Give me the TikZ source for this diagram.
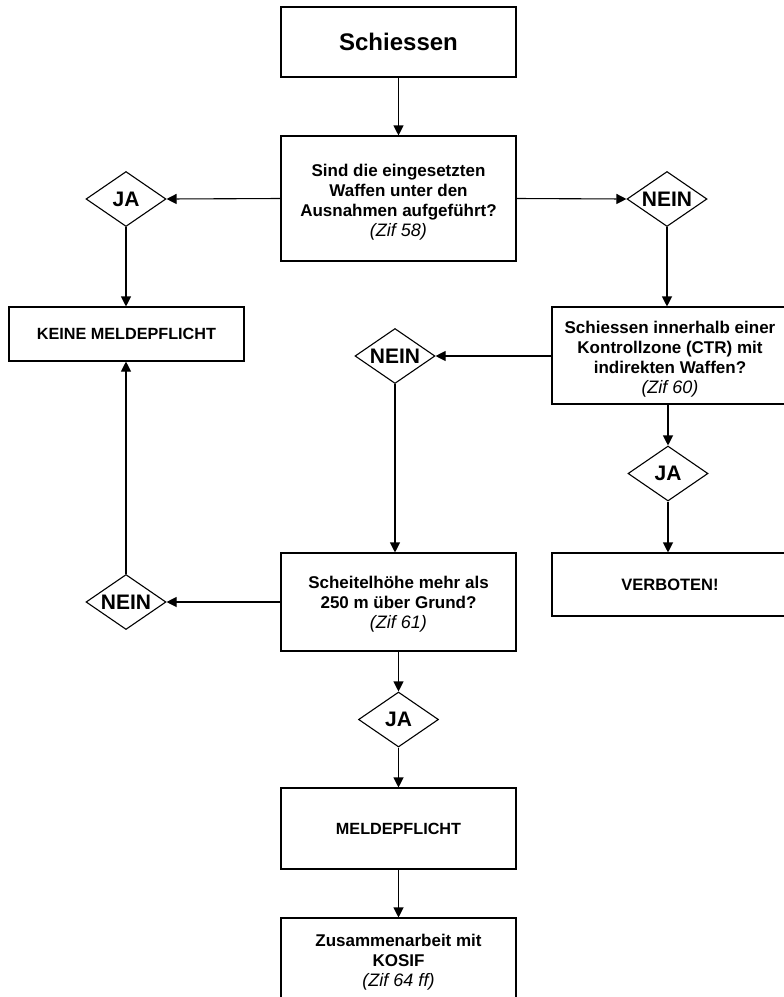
\documentclass[tikz,border=0pt]{standalone}
\usepackage{fontspec}
\setmainfont{Liberation Sans}
\usetikzlibrary{shapes.geometric,arrows.meta}
\tikzset{
  box/.style={draw, line width=1.1pt, rectangle, inner sep=0pt, align=center,
     font=\fontsize{16.2}{20}\selectfont\bfseries},
  txt/.style={inner sep=0pt, align=center, font=\fontsize{17}{20}\selectfont\bfseries},
  dia/.style={draw, line width=1.1pt, diamond, aspect=1.45, inner sep=0pt, minimum width=80pt,
     minimum height=55pt, font=\fontsize{21}{22}\selectfont\bfseries},
  conn/.style={line width=1.1pt, -{Triangle[length=10pt,width=10pt]}}
}
\newcommand{\zif}[1]{{\fontsize{18}{18}\selectfont\mdseries\itshape #1}}
\begin{document}
\begin{tikzpicture}[x=1pt,y=-1pt]
\useasboundingbox (0,0) rectangle (784,997);
\clip (0,0) rectangle (784,997);
\node[box, minimum width=235pt, minimum height=70pt, font=\fontsize{24}{26}\selectfont\bfseries] (s) at (398.5,42) {Schiessen};
\node[box, minimum width=235pt, minimum height=125pt] (q1) at (398.5,198.5) {};
\node[txt] (q1t) at ([yshift=-4pt]q1.center) {Sind die eingesetzten\\Waffen unter den\\Ausnahmen aufgeführt?\\\zif{(Zif 58)}};
\node[dia] (ja1) at (126,199) {JA};
\node[dia] (nein1) at (667,199) {NEIN};
\node[box, minimum width=235pt, minimum height=54pt] (keine) at (126.5,334) {KEINE MELDEPFLICHT};
\node[box, minimum width=236pt, minimum height=97pt] (q2) at (670,355.5) {};
\node[txt] (q2t) at ([yshift=-4pt]q2.center) {Schiessen innerhalb einer\\Kontrollzone (CTR) mit\\indirekten Waffen?\\\zif{(Zif 60)}};
\node[dia] (nein2) at (395,356) {NEIN};
\node[dia] (ja2) at (668,473.5) {JA};
\node[box, minimum width=236pt, minimum height=63pt, font=\fontsize{16.5}{20}\selectfont\bfseries] (verb) at (670,584.5) {VERBOTEN!};
\node[box, minimum width=235pt, minimum height=98pt] (q3) at (398.5,602) {};
\node[txt] (q3t) at ([yshift=-2pt]q3.center) {Scheitelhöhe mehr als\\250 m über Grund?\\\zif{(Zif 61)}};
\node[dia] (ja3) at (398.5,719.5) {JA};
\node[dia] (nein3) at (126,602) {NEIN};
\node[box, minimum width=235pt, minimum height=81pt] (meld) at (398.5,828.5) {MELDEPFLICHT};
\node[box, minimum width=235pt, minimum height=86pt] (zus) at (398.5,961) {};
\node[txt] (zust) at ([yshift=-1pt]zus.center) {Zusammenarbeit mit\\KOSIF\\\zif{(Zif 64 ff)}};

\draw[conn] (s.south) -- (s.south |- q1.north);
\draw[conn] (q1.west) -- (ja1.east);
\draw[conn] (q1.east) -- (nein1.west);
\draw[conn] (ja1.south) -- (ja1.south |- keine.north);
\draw[conn] (nein1.south) -- (nein1.south |- q2.north);
\draw[conn] (q2.west |- nein2.east) -- (nein2.east);
\draw[conn] (ja2.north |- q2.south) -- (ja2.north);
\draw[conn] (ja2.south) -- (ja2.south |- verb.north);
\draw[conn] (nein2.south) -- (nein2.south |- q3.north);
\draw[conn] (q3.west) -- (nein3.east);
\draw[conn] (nein3.north) -- (nein3.north |- keine.south);
\draw[conn] (q3.south) -- (ja3.north);
\draw[conn] (ja3.south) -- (meld.north);
\draw[conn] (meld.south) -- (zus.north);
\end{tikzpicture}
\end{document}
